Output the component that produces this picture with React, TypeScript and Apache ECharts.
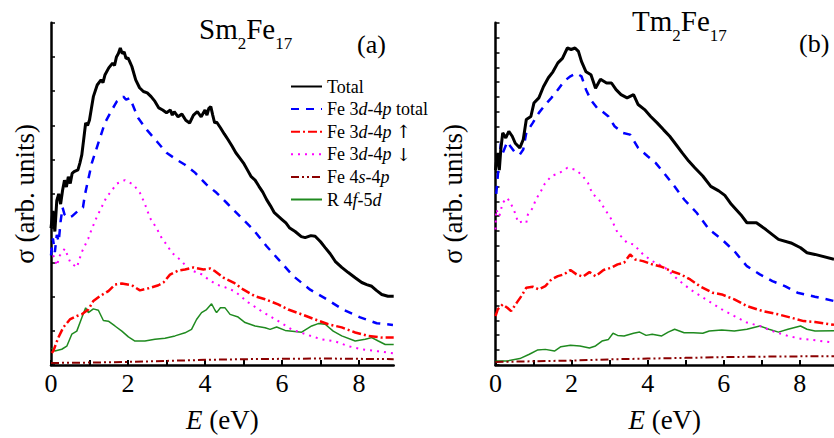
import React, { useEffect, useRef } from 'react';
import * as echarts from 'echarts';

const FONT = '"Liberation Serif", "Times New Roman", serif';

const seriesNames = ['Total', 'Fe 3d-4p total', 'Fe 3d-4p ↑', 'Fe 3d-4p ↓', 'Fe 4s-4p', 'R 4f-5d'];
const legendRich: Record<string, string> = {
  'Total': 'Total',
  'Fe 3d-4p total': 'Fe 3{i|d}-4{i|p} total',
  'Fe 3d-4p ↑': 'Fe 3{i|d}-4{i|p} {a|↑}',
  'Fe 3d-4p ↓': 'Fe 3{i|d}-4{i|p} {a|↓}',
  'Fe 4s-4p': 'Fe 4{i|s}-4{i|p}',
  'R 4f-5d': 'R 4{i|f}-5{i|d}',
};
const xLabelValues = [0, 2, 4, 6, 8];

// ---------- Panel (a) Sm2Fe17 ----------
const smTotal = [
  [0, 4.0], [0.05, 4.5], [0.1, 3.9], [0.15, 4.8], [0.2, 5.0], [0.25, 4.7], [0.3, 5.1], [0.35, 5.4], [0.4, 5.2],
  [0.45, 5.5], [0.5, 5.3], [0.55, 5.6], [0.6, 5.65], [0.7, 5.7], [0.75, 5.9], [0.8, 6.14], [0.85, 6.6], [0.9, 7.07],
  [0.95, 7.0], [1.0, 7.16], [1.05, 7.5], [1.1, 7.84], [1.2, 8.18], [1.3, 8.33], [1.35, 8.25], [1.4, 8.47], [1.5, 8.68],
  [1.6, 8.82], [1.65, 8.75], [1.7, 9.0], [1.75, 9.1], [1.8, 9.26], [1.85, 9.1], [1.9, 9.15], [1.95, 8.95], [2.0, 8.97],
  [2.05, 8.85], [2.1, 8.72], [2.2, 8.33], [2.3, 8.1], [2.4, 7.99], [2.5, 7.95], [2.6, 7.84], [2.7, 7.7], [2.8, 7.51],
  [2.9, 7.45], [3.0, 7.37], [3.1, 7.45], [3.15, 7.3], [3.2, 7.4], [3.3, 7.25], [3.4, 7.33], [3.5, 7.15], [3.6, 7.07],
  [3.7, 7.3], [3.8, 7.4], [3.9, 7.25], [4.0, 7.45], [4.05, 7.3], [4.1, 7.5], [4.15, 7.55], [4.2, 7.3], [4.25, 7.07],
  [4.3, 7.1], [4.4, 6.93], [4.5, 6.75], [4.6, 6.58], [4.7, 6.4], [4.8, 6.2], [4.9, 6.05], [5.0, 5.9], [5.1, 5.7],
  [5.2, 5.5], [5.3, 5.4], [5.4, 5.22], [5.5, 5.05], [5.6, 4.83], [5.7, 4.65], [5.8, 4.45], [5.9, 4.35], [6.0, 4.25],
  [6.1, 4.15], [6.2, 4.0], [6.34, 3.9], [6.5, 3.75], [6.6, 3.72], [6.75, 3.78], [6.86, 3.76], [7.0, 3.6], [7.12, 3.43],
  [7.25, 3.25], [7.38, 3.03], [7.55, 2.85], [7.72, 2.7], [7.9, 2.55], [8.07, 2.41], [8.2, 2.35], [8.33, 2.3],
  [8.45, 2.18], [8.59, 2.06], [8.75, 2.01], [8.9, 2.01],
];
const smFeTotal = [
  [0, 3.2], [0.05, 3.7], [0.1, 3.3], [0.15, 3.8], [0.2, 3.6], [0.25, 4.2], [0.3, 4.6], [0.35, 4.4], [0.45, 4.3],
  [0.55, 4.35], [0.65, 4.45], [0.75, 4.55], [0.83, 4.6], [0.88, 4.97], [1.06, 5.9], [1.23, 6.49], [1.4, 7.07],
  [1.58, 7.45], [1.71, 7.7], [1.88, 7.84], [1.95, 7.75], [2.05, 7.8], [2.14, 7.55], [2.26, 7.22], [2.49, 6.87],
  [2.75, 6.53], [3.0, 6.2], [3.26, 6.0], [3.48, 5.85], [3.74, 5.62], [4.04, 5.27], [4.3, 5.03], [4.56, 4.74],
  [4.91, 4.34], [5.25, 3.96], [5.6, 3.47], [5.95, 3.03], [6.29, 2.6], [6.73, 2.2], [7.16, 1.92], [7.58, 1.62],
  [8.03, 1.39], [8.46, 1.22], [8.88, 1.17],
];
const smUp = [
  [0.02, 0.35], [0.06, 0.41], [0.19, 0.8], [0.32, 1.1], [0.49, 1.33], [0.67, 1.43], [0.8, 1.48], [0.97, 1.62],
  [1.1, 1.87], [1.27, 2.01], [1.49, 2.16], [1.66, 2.35], [1.84, 2.38], [2.1, 2.33], [2.31, 2.18], [2.53, 2.24],
  [2.79, 2.33], [2.92, 2.41], [3.09, 2.64], [3.31, 2.76], [3.48, 2.79], [3.7, 2.85], [3.96, 2.79], [4.13, 2.82],
  [4.26, 2.74], [4.48, 2.55], [4.74, 2.41], [5.0, 2.2], [5.3, 2.01], [5.56, 1.92], [5.9, 1.77], [6.16, 1.62],
  [6.51, 1.48], [6.86, 1.33], [7.2, 1.19], [7.55, 1.1], [7.9, 0.95], [8.24, 0.85], [8.59, 0.8], [8.9, 0.8],
];
const smDown = [
  [0, 3.4], [0.06, 3.2], [0.15, 2.9], [0.23, 3.2], [0.36, 3.4], [0.5, 3.0], [0.67, 2.85], [0.8, 3.3], [0.97, 3.7],
  [1.05, 3.95], [1.18, 4.3], [1.31, 4.6], [1.44, 4.9], [1.58, 5.1], [1.71, 5.3], [1.92, 5.4], [2.14, 5.27],
  [2.31, 5.03], [2.44, 4.7], [2.57, 4.3], [2.74, 4.0], [2.87, 3.72], [3.0, 3.52], [3.14, 3.28], [3.4, 3.03],
  [3.57, 2.8], [3.91, 2.65], [4.09, 2.5], [4.3, 2.35], [4.52, 2.27], [4.78, 2.15], [5.12, 1.83], [5.47, 1.57],
  [5.95, 1.25], [6.25, 1.04], [6.77, 0.84], [7.03, 0.75], [7.38, 0.69], [7.72, 0.55], [8.07, 0.46], [8.5, 0.4],
  [8.9, 0.34],
];
const smFe4s = [
  [0, 0.06], [1, 0.07], [2, 0.09], [3, 0.12], [4, 0.15], [5, 0.17], [6, 0.18], [7, 0.19], [8, 0.18], [8.9, 0.17],
];
const smR4f = [
  [0.02, 0.5], [0.1, 0.41], [0.28, 0.46], [0.41, 0.55], [0.54, 0.9], [0.67, 0.99], [0.8, 1.38], [0.9, 1.67],
  [0.97, 1.53], [1.1, 1.64], [1.23, 1.6], [1.36, 1.3], [1.49, 1.28], [1.66, 1.14], [1.84, 0.99], [2.01, 0.82],
  [2.18, 0.7], [2.44, 0.7], [2.7, 0.75], [2.96, 0.78], [3.22, 0.85], [3.48, 0.94], [3.65, 1.04], [3.78, 1.33],
  [3.91, 1.53], [4.04, 1.62], [4.17, 1.79], [4.26, 1.6], [4.3, 1.53], [4.4, 1.67], [4.52, 1.67], [4.65, 1.48],
  [4.86, 1.4], [5.04, 1.24], [5.3, 1.14], [5.56, 1.09], [5.69, 1.04], [5.86, 1.11], [6.08, 1.01], [6.51, 0.96],
  [6.77, 1.14], [6.94, 1.21], [7.12, 1.19], [7.33, 0.99], [7.55, 0.85], [7.9, 0.7], [8.16, 0.75], [8.33, 0.8],
  [8.5, 0.7], [8.68, 0.6], [8.9, 0.6],
];

// ---------- Panel (b) Tm2Fe17 ----------
const tmTotal = [
  [0, 13.1], [0.02, 13.58], [0.06, 14.25], [0.1, 13.1], [0.14, 14.5], [0.19, 15.6], [0.27, 15.26], [0.35, 15.7],
  [0.44, 15.37], [0.52, 14.9], [0.64, 14.59], [0.73, 15.15], [0.81, 16.5], [0.93, 16.7], [1.01, 17.6], [1.14, 17.95],
  [1.26, 18.7], [1.39, 19.3], [1.51, 19.7], [1.64, 20.3], [1.76, 20.6], [1.89, 21.3], [1.99, 21.2], [2.09, 21.3],
  [2.18, 21.07], [2.26, 20.4], [2.38, 19.7], [2.51, 19.5], [2.63, 18.6], [2.76, 19.2], [2.92, 18.95], [3.05, 18.95],
  [3.17, 18.5], [3.3, 18.17], [3.46, 17.95], [3.63, 18.17], [3.75, 17.5], [3.92, 17.16], [4.08, 16.7], [4.25, 16.27],
  [4.42, 15.8], [4.58, 15.37], [4.75, 14.8], [4.91, 14.25], [5.08, 13.7], [5.24, 13.25], [5.45, 12.7], [5.66, 12.0],
  [5.87, 11.7], [6.03, 11.4], [6.2, 10.8], [6.45, 10.1], [6.61, 9.56], [6.86, 9.56], [7.11, 9.1], [7.44, 8.44],
  [7.77, 8.2], [8.02, 7.88], [8.19, 7.54], [8.4, 7.43], [8.9, 7.1],
];
const tmFeTotal = [
  [0.02, 11.5], [0.06, 12.7], [0.1, 13.8], [0.14, 14.9], [0.2, 14.3], [0.31, 15.0], [0.39, 14.7], [0.52, 14.25],
  [0.64, 14.14], [0.73, 14.48], [0.81, 15.6], [0.98, 16.27], [1.14, 16.94], [1.31, 17.5], [1.47, 17.95], [1.64, 18.5],
  [1.8, 19.06], [1.97, 19.4], [2.13, 19.6], [2.26, 19.4], [2.38, 18.5], [2.51, 17.8], [2.67, 17.27], [2.8, 17.05],
  [2.97, 16.7], [3.13, 16.04], [3.34, 15.6], [3.54, 15.48], [3.75, 14.59], [4.0, 14.03], [4.21, 13.58], [4.46, 12.8],
  [4.71, 12.0], [4.96, 11.12], [5.29, 10.23], [5.62, 9.1], [5.95, 8.44], [6.28, 7.65], [6.61, 6.64], [6.95, 6.09],
  [7.28, 5.64], [7.61, 5.3], [7.94, 4.86], [8.4, 4.59], [8.9, 4.3],
];
const tmUp = [
  [0, 3.29], [0.06, 3.74], [0.19, 4.07], [0.31, 3.85], [0.41, 3.62], [0.56, 4.19], [0.68, 4.63], [0.81, 5.19],
  [0.98, 5.26], [1.14, 5.08], [1.31, 5.3], [1.47, 5.75], [1.64, 5.97], [1.8, 6.09], [1.97, 6.38], [2.13, 6.09],
  [2.3, 5.93], [2.47, 6.24], [2.63, 5.97], [2.84, 6.38], [3.05, 6.54], [3.21, 6.76], [3.38, 6.87], [3.54, 7.43],
  [3.67, 7.09], [3.88, 6.98], [4.12, 6.76], [4.37, 6.6], [4.62, 6.31], [4.87, 6.09], [5.12, 5.75], [5.37, 5.3],
  [5.7, 4.86], [5.95, 4.74], [6.28, 4.41], [6.61, 3.96], [7.03, 3.62], [7.44, 3.4], [7.77, 3.18], [8.1, 2.95],
  [8.4, 2.89], [8.9, 2.7],
];
const tmDown = [
  [0, 9.1], [0.02, 10.45], [0.1, 10.0], [0.19, 10.9], [0.31, 11.23], [0.39, 10.9], [0.48, 10.45], [0.6, 9.56],
  [0.73, 9.66], [0.81, 9.56], [0.85, 10.1], [0.98, 10.56], [1.06, 11.12], [1.18, 11.6], [1.3, 12.2], [1.47, 12.7],
  [1.68, 12.9], [1.89, 13.25], [2.09, 13.13], [2.26, 12.8], [2.43, 12.24], [2.55, 11.5], [2.72, 11.12], [2.88, 10.45],
  [3.05, 9.78], [3.21, 8.89], [3.46, 8.21], [3.63, 8.1], [3.88, 7.43], [4.12, 6.98], [4.46, 6.54], [4.79, 5.75],
  [5.12, 5.08], [5.53, 4.41], [5.95, 3.74], [6.28, 3.29], [6.61, 2.85], [6.95, 2.62], [7.28, 2.28], [7.69, 1.95],
  [8.02, 1.77], [8.23, 1.72], [8.9, 1.5],
];
const tmFe4s = [
  [0, 0.2], [1, 0.25], [2, 0.3], [3, 0.38], [4, 0.43], [5, 0.48], [6, 0.53], [7, 0.56], [8, 0.58], [8.9, 0.58],
];
const tmR4f = [
  [0, 0.27], [0.31, 0.27], [0.64, 0.43], [0.89, 0.72], [1.1, 1.0], [1.31, 1.05], [1.55, 0.94], [1.72, 1.23],
  [1.97, 1.32], [2.22, 1.28], [2.47, 1.14], [2.63, 1.28], [2.8, 1.61], [2.97, 1.72], [3.09, 2.13], [3.21, 1.99],
  [3.38, 1.95], [3.63, 2.13], [3.79, 2.21], [3.96, 1.99], [4.12, 2.06], [4.37, 1.95], [4.54, 2.21], [4.71, 2.4],
  [4.96, 2.17], [5.2, 2.17], [5.45, 2.13], [5.62, 2.28], [5.95, 2.35], [6.28, 2.28], [6.61, 2.4], [6.95, 2.62],
  [7.19, 2.4], [7.44, 2.21], [7.69, 2.4], [8.02, 2.62], [8.19, 2.4], [8.4, 2.28], [8.9, 2.3],
];

const panelData = [
  [smTotal, smFeTotal, smUp, smDown, smFe4s, smR4f],
  [tmTotal, tmFeTotal, tmUp, tmDown, tmFe4s, tmR4f],
];

const lineStyles = [
  { color: '#000000', width: 3, type: 'solid' as any },
  { color: '#0000ff', width: 2.5, type: [8, 7] as any },
  { color: '#ff0000', width: 2.5, type: [9, 3, 2, 3] as any },
  { color: '#ff00ff', width: 2, type: [2, 5] as any },
  { color: '#8b0000', width: 2, type: [8, 3, 2, 3, 2, 3] as any },
  { color: '#1f8a1f', width: 1.5, type: 'solid' as any },
];

export default function App() {
  const ref = useRef<HTMLDivElement>(null);
  useEffect(() => {
    document.body.style.margin = '0';
    if (!ref.current) return;
    const chart = echarts.init(ref.current, undefined, { renderer: 'svg' });

    const grids = [
      { left: 51, top: 22.7, width: 342.7, height: 343 },
      { left: 495.5, top: 22.7, width: 357.8, height: 343 },
    ];
    const yMax = [10, 23];
    const yNameGap = [13, 29];

    const xAxes = grids.map((_, i) => ({
      type: 'value',
      gridIndex: i,
      min: 0,
      max: 8.9,
      interval: 1,
      axisLine: { show: true, onZero: false, lineStyle: { color: '#000', width: 2.5 } },
      axisTick: { show: true, inside: true, length: 5, lineStyle: { color: '#000', width: 2 } },
      axisLabel: {
        fontFamily: FONT, fontSize: 26, color: '#000', margin: 5, showMaxLabel: false,
        formatter: (v: number) => (xLabelValues.indexOf(v) >= 0 ? String(v) : ''),
      },
      splitLine: { show: false },
      name: '{i|E} (eV)',
      nameLocation: 'middle',
      nameGap: 41,
      nameTextStyle: {
        fontFamily: FONT, fontSize: 27, color: '#000',
        rich: { i: { fontFamily: FONT, fontSize: 27, fontStyle: 'italic', color: '#000' } },
      },
    }));
    const yAxes = grids.map((_, i) => ({
      type: 'value',
      gridIndex: i,
      min: 0,
      max: yMax[i],
      interval: 1,
      axisLine: { show: true, onZero: false, lineStyle: { color: '#000', width: 2.5 } },
      axisTick: { show: true, inside: true, length: 4, lineStyle: { color: '#000', width: 1.5 } },
      axisLabel: { show: false },
      splitLine: { show: false },
      name: 'σ (arb. units)',
      nameLocation: 'middle',
      nameGap: yNameGap[i],
      nameTextStyle: { fontFamily: FONT, fontSize: 27, color: '#000' },
    }));

    const series: any[] = [];
    panelData.forEach((arrs, p) => {
      arrs.forEach((d, k) => {
        series.push({
          type: 'line',
          name: seriesNames[k],
          xAxisIndex: p,
          yAxisIndex: p,
          data: d,
          symbol: 'none',
          showSymbol: false,
          silent: true,
          clip: true,
          z: 10 - k,
          lineStyle: { ...lineStyles[k] },
          itemStyle: { color: lineStyles[k].color },
        });
      });
    });

    // equal token box heights so that placement does not depend on alignment
    const titleRich = {
      m: { fontFamily: FONT, fontSize: 29, lineHeight: 18, padding: [0, 0, 14, 0], color: '#000' },
      s: { fontFamily: FONT, fontSize: 17, lineHeight: 17, padding: [15, 0, 0, 0], color: '#000' },
    };

    chart.setOption({
      animation: false,
      backgroundColor: '#ffffff',
      grid: grids,
      xAxis: xAxes,
      yAxis: yAxes,
      legend: {
        data: seriesNames,
        orient: 'vertical',
        left: 285,
        top: 71,
        itemWidth: 31,
        itemHeight: 12,
        itemGap: 1.6,
        selectedMode: false,
        itemStyle: { opacity: 0, borderWidth: 0 },
        formatter: (name: string) => legendRich[name] || name,
        textStyle: {
          fontFamily: FONT, fontSize: 18, lineHeight: 21, color: '#000',
          rich: {
            i: { fontFamily: FONT, fontSize: 18, lineHeight: 21, fontStyle: 'italic', color: '#000' },
            a: { fontFamily: '"DejaVu Serif", serif', fontSize: 18, lineHeight: 21, color: '#000' },
          },
        },
      },
      graphic: [
        {
          type: 'text', left: 199, top: 14, silent: true,
          style: { text: '{m|Sm}{s|2}{m|Fe}{s|17}', rich: titleRich },
        },
        {
          type: 'text', left: 632, top: 6, silent: true,
          style: { text: '{m|Tm}{s|2}{m|Fe}{s|17}', rich: titleRich },
        },
        {
          type: 'text', left: 357, top: 31, silent: true,
          style: { text: '(a)', fontFamily: FONT, fontSize: 26, fill: '#000' },
        },
        {
          type: 'text', left: 799, top: 30, silent: true,
          style: { text: '(b)', fontFamily: FONT, fontSize: 26, fill: '#000' },
        },
      ],
      series,
    });
    return () => chart.dispose();
  }, []);
  return <div ref={ref} style={{ width: 834, height: 438 }} />;
}
